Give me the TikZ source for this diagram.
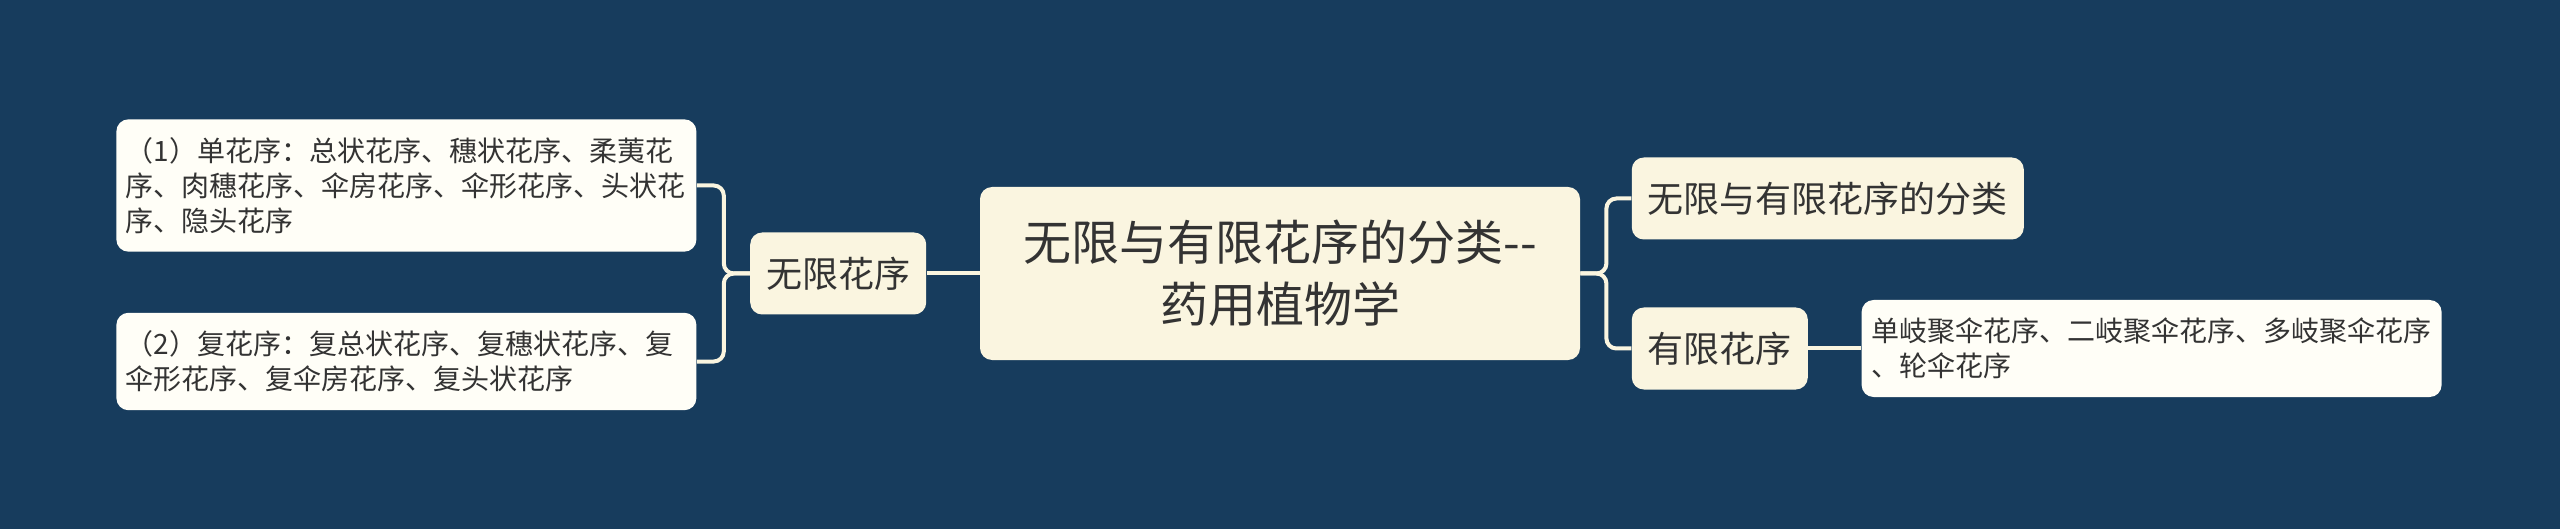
\documentclass[tikz,border=0pt]{standalone}
\usepackage{fontspec}
\setmainfont{Noto Sans CJK SC}
\usepackage{xcolor}
\usepackage{tikz}
\usetikzlibrary{positioning}
\definecolor{bgblue}{HTML}{173C5D}
\definecolor{cream}{HTML}{FAF5E0}
\definecolor{paper}{HTML}{FFFEF7}
\definecolor{ink}{HTML}{333333}
\tikzstyle{centre} = [rectangle, rounded corners=6pt, fill=cream, text=ink, font=\fontsize{24}{31}\selectfont, text width=262pt, align=center, inner xsep=19pt, inner ysep=0pt, minimum height=86.5pt]
\tikzstyle{branch} = [rectangle, rounded corners=6pt, fill=cream, text=ink, font=\fontsize{18}{22}\selectfont, inner xsep=8pt, inner ysep=0pt, minimum height=41pt]
\tikzstyle{leaf} = [rectangle, rounded corners=6pt, fill=paper, text=ink, font=\fontsize{14}{17.5}\selectfont, text width=280.5pt, align=left, inner xsep=4.75pt, inner ysep=9pt]
\tikzstyle{link} = [line width=2pt, draw=cream, rounded corners=5pt]

\begin{document}
\begin{tikzpicture}[node distance=26.5pt]
    \fill[bgblue] (0,0) rectangle (1280pt,-264.5pt);
    \useasboundingbox (0,0) rectangle (1280pt,-264.5pt);
    %
    \node(root)[centre] at (640pt,-136.75pt) {无限与有限花序的分类-{}-\\药用植物学};
    \node(wuxian)[branch, left=of root] {无限花序};
    \node(dan)[leaf, left=of wuxian, yshift=44pt] {（1）单花序：总状花序、穗状花序、柔荑花\\序、肉穗花序、伞房花序、伞形花序、头状花\\序、隐头花序};
    \node(fu)[leaf, left=of wuxian, yshift=-44pt] {（2）复花序：复总状花序、复穗状花序、复\\伞形花序、复伞房花序、复头状花序};
    \node(fenlei)[branch, right=25.5pt of root, yshift=37.5pt] {无限与有限花序的分类};
    \node(youxian)[branch, right=25.5pt of root, yshift=-37.5pt] {有限花序};
    \node(juhua)[leaf, right=of youxian] {单岐聚伞花序、二岐聚伞花序、多岐聚伞花序\\、轮伞花序};
    %
    \draw [link] (root.west) -- (wuxian.east);
    \draw [link] (wuxian.west) -- ++(-13pt,0) |- (dan.east);
    \draw [link] (wuxian.west) -- ++(-13pt,0) |- (fu.east);
    \draw [link] (root.east) -- ++(13pt,0) |- (fenlei.west);
    \draw [link] (root.east) -- ++(13pt,0) |- (youxian.west);
    \draw [link] (youxian.east) -- (juhua.west);
\end{tikzpicture}
\end{document}
